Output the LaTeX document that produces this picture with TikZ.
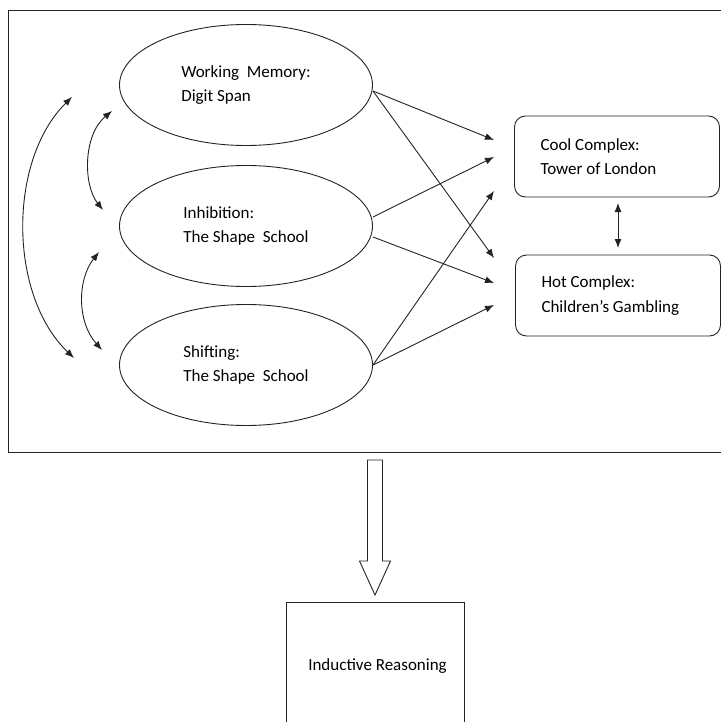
\documentclass[tikz,border=0pt]{standalone}
\usepackage{fontspec}
\setmainfont{Carlito}
\usetikzlibrary{arrows.meta,shapes.geometric}
\definecolor{ink}{RGB}{35,35,35}
\begin{document}
\begin{tikzpicture}[x=1pt,y=-1pt,
  font=\fontsize{17}{24.5}\selectfont,
  line width=0.9pt, draw=ink,
  tip/.style={-{Latex[length=9pt,width=7pt]}},
  dtip/.style={{Latex[length=9pt,width=7pt]}-{Latex[length=9pt,width=7pt]}},
  construct/.style={draw=ink, ellipse, minimum width=253pt, minimum height=121pt, inner sep=0pt, align=left, text=black},
  taskbox/.style={draw=ink, rounded corners=11pt, minimum width=205pt, minimum height=81pt, text width=153pt, inner xsep=26pt, align=flush left, text=black},
  outbox/.style={draw=ink, minimum width=178pt, minimum height=128pt, text=black}
]
\useasboundingbox (0,0) rectangle (720,722);
\draw[ink] (8,10) rectangle (726,452);

\node[construct] (wm)  at (246,85)  {Working\ \ Memory:\\Digit Span};
\node[construct] (inh) at (246,226) {Inhibition:\\The Shape\ \ School};
\node[construct] (shf) at (246,365) {Shifting:\\The Shape\ \ School};

\node[taskbox] (cool) at (617,156.5) {Cool Complex:\\Tower of London};
\node[taskbox] (hot)  at (618,295.5) {Hot Complex:\\Children’s Gambling};

\node[outbox] (ind) at (375,666) {\hspace{5pt}Inductive Reasoning};

% free ends of the correlation arrows
\coordinate (a1) at (72,97);
\coordinate (a2) at (74,358);
\coordinate (b1) at (112,111);
\coordinate (b2) at (103,210);
\coordinate (c1) at (99,252);
\coordinate (c2) at (102,350);
\draw[dtip] (a1) .. controls (8,160) and (8,295) .. (a2);
\draw[dtip] (b1) .. controls (83,135) and (83,185) .. (b2);
\draw[dtip] (c1) .. controls (77,280) and (77,322) .. (c2);

% path arrows
\coordinate (wmo) at (373,91);
\coordinate (inho1) at (373,217);
\coordinate (inho2) at (373,237);
\coordinate (shfo) at (373,365);
\coordinate (t1) at (494,140);
\coordinate (t2) at (494,157);
\coordinate (t3) at (494,191);
\coordinate (t4) at (494,258);
\coordinate (t5) at (494,283);
\coordinate (t6) at (494,305);
\draw[tip] (wmo) -- (t1);
\draw[tip] (wmo) -- (t4);
\draw[tip] (inho1) -- (t2);
\draw[tip] (inho2) -- (t5);
\draw[tip] (shfo) -- (t3);
\draw[tip] (shfo) -- (t6);

% cool <-> hot
\coordinate (ch1) at (618,203);
\coordinate (ch2) at (618,248);
\draw[dtip] (ch1) -- (ch2);

% block arrow
\draw[ink, line width=0.9pt] (367.5,460) -- (367.5,561) -- (359.5,561) -- (375,595) -- (390.5,561) -- (382.5,561) -- (382.5,460) -- cycle;
\end{tikzpicture}
\end{document}
